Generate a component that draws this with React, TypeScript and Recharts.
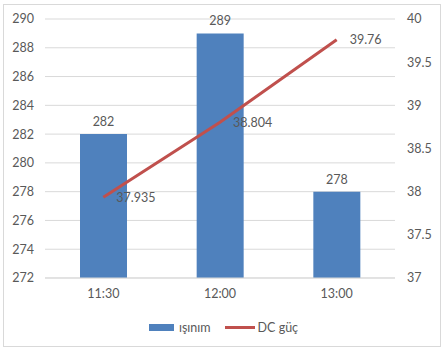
import {
  Bar,
  ComposedChart,
  CartesianGrid,
  LabelList,
  Legend,
  Line,
  XAxis,
  YAxis,
} from "recharts";

const times = ["11:30", "12:00", "13:00"];
const isinim = [282, 289, 278];
const dcGuc = [37.935, 38.804, 39.76];
const leftTicks = [272, 274, 276, 278, 280, 282, 284, 286, 288, 290];
const rightTicks = [37, 37.5, 38, 38.5, 39, 39.5, 40];

const data = times.map((t, i) => ({ time: t, isinim: isinim[i], dc: dcGuc[i] }));

const COLORS = {
  bar: "#4F81BD",
  line: "#C0504D",
  grid: "#D9D9D9",
  text: "#595959",
};

const FONT = "Lato, 'Liberation Sans', sans-serif";

const LegendContent = () => (
  <div
    style={{
      height: 43,
      boxSizing: "border-box",
      paddingBottom: 4,
      paddingLeft: 4,
      display: "flex",
      justifyContent: "center",
      alignItems: "center",
      fontFamily: FONT,
      fontSize: 12.5,
      color: COLORS.text,
    }}
  >
    <div style={{ display: "flex", alignItems: "center", marginRight: 14 }}>
      <div style={{ width: 25, height: 7, background: COLORS.bar, marginRight: 5 }} />
      <span>ışınım</span>
    </div>
    <div style={{ display: "flex", alignItems: "center" }}>
      <div style={{ width: 30, height: 3, background: COLORS.line, marginRight: 3 }} />
      <span>DC güç</span>
    </div>
  </div>
);

export default function App() {
  return (
    <div style={{ position: "fixed", left: 0, top: 0, width: 443, height: 351, background: "#fff" }}>
      <div
        style={{
          position: "absolute",
          left: 3,
          top: 4,
          width: 436,
          height: 341,
          border: "1px solid #D9D9D9",
        }}
      />
      <ComposedChart
        width={443}
        height={351}
        data={data}
        margin={{ top: 19, right: 0, left: 0, bottom: 0 }}
        style={{ position: "absolute", left: 0, top: 0 }}
      >
        <CartesianGrid stroke={COLORS.grid} vertical={false} yAxisId="left" />
        <XAxis
          dataKey="time"
          tickLine={false}
          axisLine={{ stroke: COLORS.grid }}
          tick={{ fontSize: 12.5, fill: COLORS.text, fontFamily: FONT }}
          tickMargin={5}
          height={30}
        />
        <YAxis
          yAxisId="left"
          domain={[272, 290]}
          ticks={leftTicks}
          tickLine={false}
          axisLine={false}
          tick={{ fontSize: 12.5, fill: COLORS.text, fontFamily: FONT }}
          tickMargin={5}
          width={45}
        />
        <YAxis
          yAxisId="right"
          orientation="right"
          domain={[37, 40]}
          ticks={rightTicks}
          tickLine={false}
          axisLine={false}
          tick={{ fontSize: 12.5, fill: COLORS.text, fontFamily: FONT, textAnchor: "start" }}
          tickMargin={6}
          width={48}
        />
        <Legend verticalAlign="bottom" content={<LegendContent />} />
        <Bar
          yAxisId="left"
          dataKey="isinim"
          name="ışınım"
          fill={COLORS.bar}
          barSize={47}
          isAnimationActive={false}
        >
          <LabelList
            dataKey="isinim"
            position="top"
            offset={8}
            style={{ fontSize: 12.5, fill: COLORS.text, fontFamily: FONT }}
          />
        </Bar>
        <Line
          yAxisId="right"
          dataKey="dc"
          name="DC güç"
          stroke={COLORS.line}
          strokeWidth={3}
          dot={false}
          activeDot={false}
          isAnimationActive={false}
        >
          <LabelList
            dataKey="dc"
            position="right"
            offset={13}
            style={{ fontSize: 12.5, fill: COLORS.text, fontFamily: FONT }}
          />
        </Line>
      </ComposedChart>
    </div>
  );
}
